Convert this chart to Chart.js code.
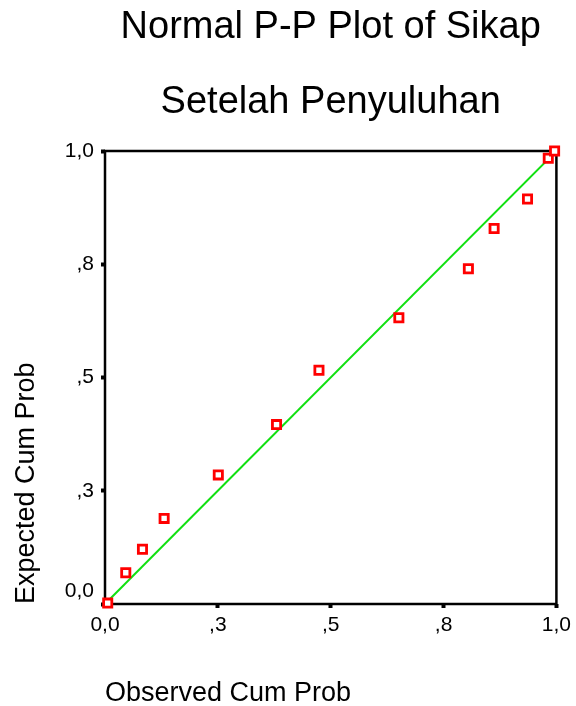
<!DOCTYPE html>
<html>
<head>
<meta charset="utf-8">
<script src="https://cdn.jsdelivr.net/npm/chart.js@4.4.1/dist/chart.umd.min.js"></script>
<style>
  html, body { margin: 0; padding: 0; background: #fff; }
  #wrap { width: 576px; height: 706px; }
</style>
</head>
<body>
<div id="wrap"><canvas id="pp" width="576" height="706"></canvas></div>
<script>
// ─── data ───
const titleLines = ["Normal P-P Plot of Sikap", "Setelah Penyuluhan"];
const xTitle = "Observed Cum Prob";
const yTitle = "Expected Cum Prob";
const tickLabels = ["0,0", ",3", ",5", ",8", "1,0"];

const observed = [0.006, 0.046, 0.083, 0.131, 0.251, 0.380, 0.474, 0.651, 0.805, 0.862, 0.936, 0.982, 0.996];
const expected = [0.002, 0.069, 0.121, 0.189, 0.285, 0.396, 0.516, 0.632, 0.740, 0.829, 0.894, 0.984, 1.000];

const diagX = [0, 1];
const diagY = [0, 1];

const FONT = '"Liberation Sans", Arial, Helvetica, sans-serif';

// ─── frame + two-line title over the plot box ───
const frameAndTitle = {
  id: "frameAndTitle",
  beforeDatasetsDraw(chart) {
    const { ctx, chartArea: a } = chart;
    ctx.save();
    ctx.strokeStyle = "#000";
    ctx.lineWidth = 2.5;
    ctx.strokeRect(a.left, a.top, a.right - a.left, a.bottom - a.top);
    ctx.restore();
  },
  afterDraw(chart) {
    const { ctx, chartArea: a } = chart;
    const cx = (a.left + a.right) / 2;
    ctx.save();
    ctx.fillStyle = "#000";
    ctx.font = "38px " + FONT;
    ctx.textAlign = "center";
    ctx.textBaseline = "alphabetic";
    ctx.fillText(titleLines[0], cx, 38);
    ctx.fillText(titleLines[1], cx, 113);
    ctx.restore();
  }
};

function tickText(value, index) {
  return tickLabels[index];
}

const axisTicks = {
  color: "#000",
  font: { family: FONT, size: 21 },
  stepSize: 0.25,
  autoSkip: false,
  maxRotation: 0
};

const axisGrid = {
  drawOnChartArea: false,
  drawTicks: true,
  tickLength: 4,
  tickWidth: 4,
  tickColor: "#000"
};

new Chart(document.getElementById("pp"), {
  type: "scatter",
  data: {
    datasets: [
      {
        type: "line",
        data: diagX.map((x, i) => ({ x, y: diagY[i] })),
        borderColor: "#11e011",
        borderWidth: 2,
        pointRadius: 0,
        fill: false,
        order: 2
      },
      {
        data: observed.map((x, i) => ({ x, y: expected[i] })),
        pointStyle: "rect",
        pointRadius: 5.8,
        pointBorderWidth: 2.8,
        pointBorderColor: "#ff0000",
        pointBackgroundColor: "#ffffff",
        clip: false,
        order: 1
      }
    ]
  },
  options: {
    responsive: false,
    animation: false,
    layout: { padding: { top: 151, right: 19, left: 0, bottom: 0 } },
    plugins: {
      legend: { display: false },
      tooltip: { enabled: false },
      title: { display: false }
    },
    scales: {
      x: {
        type: "linear",
        min: 0,
        max: 1,
        border: { display: false },
        grid: axisGrid,
        ticks: Object.assign({}, axisTicks, {
          padding: 5,
          callback: (v, i) => tickText(v, i)
        }),
        title: {
          display: true,
          text: xTitle,
          align: "start",
          color: "#000",
          font: { family: FONT, size: 27 },
          padding: { top: 0, bottom: -4 }
        },
        afterFit: (s) => { s.height = 102; }
      },
      y: {
        type: "linear",
        min: 0,
        max: 1,
        border: { display: false },
        grid: axisGrid,
        ticks: Object.assign({}, axisTicks, {
          padding: 7,
          // bottom label sits a little higher, as in the original
          callback: (v, i) => (i === 0 ? [tickLabels[0], ""] : tickText(v, i))
        }),
        title: {
          display: true,
          text: yTitle,
          align: "start",
          color: "#000",
          font: { family: FONT, size: 27 },
          padding: { top: 10, bottom: 0 }
        },
        afterFit: (s) => { s.width = 105; }
      }
    }
  },
  plugins: [frameAndTitle]
});
</script>
</body>
</html>
